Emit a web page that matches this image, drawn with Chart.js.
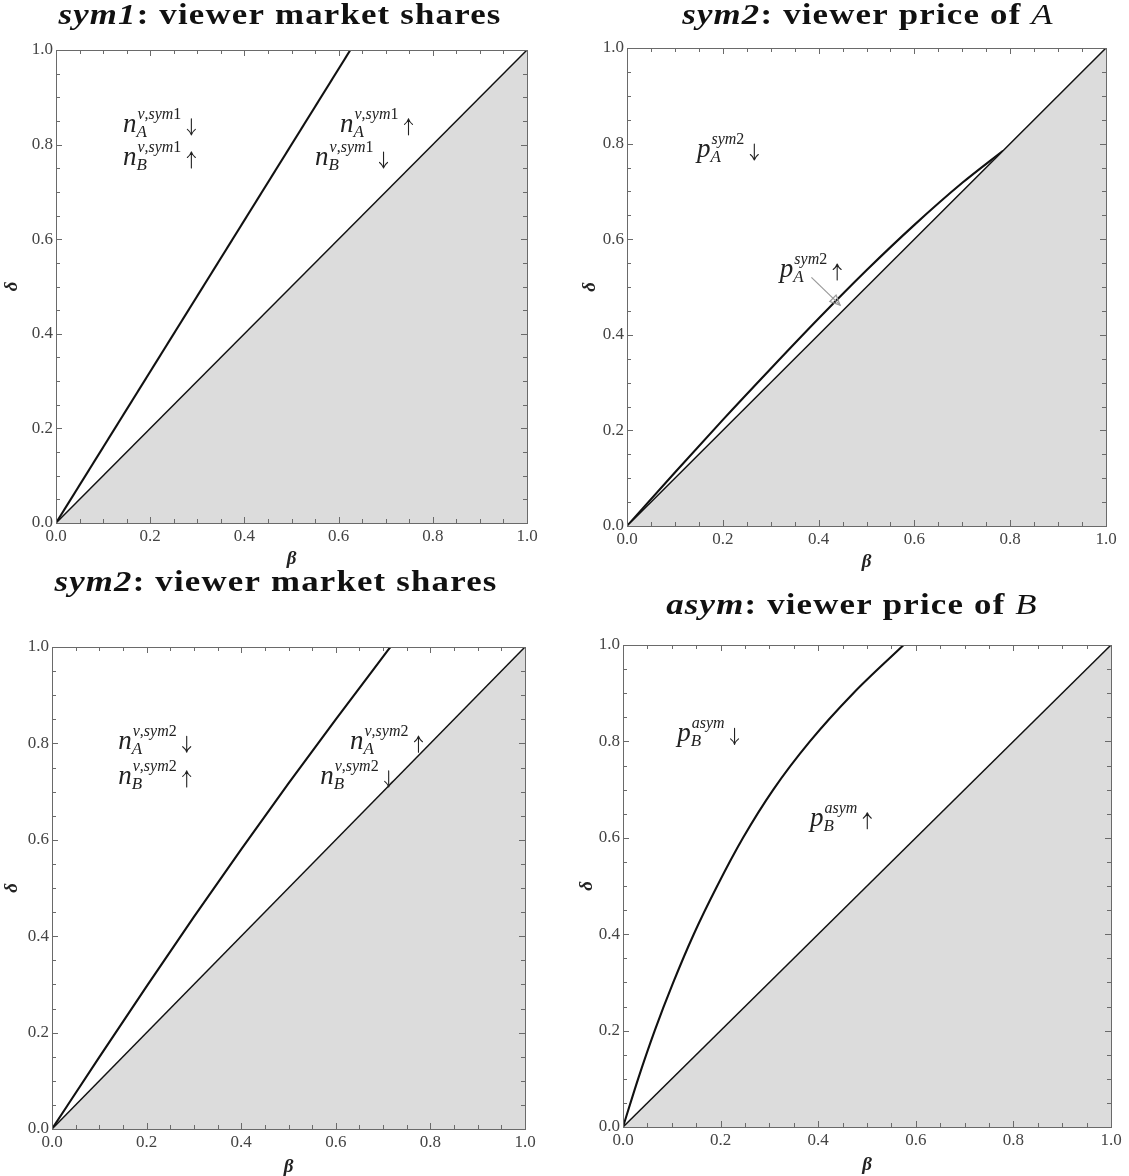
<!DOCTYPE html>
<html><head><meta charset="utf-8">
<script src="https://cdn.jsdelivr.net/npm/chart.js@4"></script>
<style>
html,body{margin:0;padding:0;background:#fff}
body{width:1129px;height:1176px;position:relative;overflow:hidden}
canvas{position:absolute}
</style></head><body>
<canvas id="c1"></canvas><canvas id="c2"></canvas><canvas id="c3"></canvas><canvas id="c4"></canvas>
<script>
// ---------- data ----------
const xTicks = [0, 0.2, 0.4, 0.6, 0.8, 1.0];
const yTicks = [0, 0.2, 0.4, 0.6, 0.8, 1.0];
const diagBeta = [0, 1];
const diagDelta = [0, 1];
// sym1: viewer market shares (boundary line)
const sym1ShareBeta = [0, 0.625];
const sym1ShareDelta = [0, 1.0];
// sym2: viewer price of A (boundary curve)
const sym2PriceBeta = [0, 0.1, 0.2, 0.3, 0.4, 0.5, 0.6, 0.7, 0.785];
const sym2PriceDelta = [0, 0.112, 0.222, 0.329, 0.434, 0.535, 0.63, 0.718, 0.785];
// sym2: viewer market shares (boundary curve)
const sym2ShareBeta = [0, 0.1, 0.2, 0.3, 0.4, 0.5, 0.6, 0.7, 0.7155];
const sym2ShareDelta = [0, 0.149, 0.296, 0.44, 0.58, 0.717, 0.85, 0.98, 1.0];
// asym: viewer price of B (boundary curve)
const asymPriceBeta = [0, 0.031, 0.065, 0.103, 0.145, 0.193, 0.246, 0.308, 0.383, 0.472, 0.575];
const asymPriceDelta = [0, 0.1, 0.2, 0.3, 0.4, 0.5, 0.6, 0.7, 0.8, 0.9, 1.0];

// ---------- helpers ----------
const SERIF = "'Liberation Serif', 'DejaVu Serif', serif";
function pts(xs, ys){ return xs.map((x,i)=>({x:x, y:ys[i]})); }
const Y_AXIS_W = 45, X_AXIS_H = 28;

function drawMathSeg(ctx, text, x, y, size){
  for (const ch of text){
    const roman = /[0-9,]/.test(ch);
    ctx.font = (roman ? '' : 'italic ') + size + 'px ' + SERIF;
    ctx.fillText(ch, x, y);
    x += ctx.measureText(ch).width;
  }
  return x;
}
function mathWidth(ctx, text, size){
  let w = 0;
  for (const ch of text){
    const roman = /[0-9,]/.test(ch);
    ctx.font = (roman ? '' : 'italic ') + size + 'px ' + SERIF;
    w += ctx.measureText(ch).width;
  }
  return w;
}
function drawArrowGlyph(ctx, x, py, up){
  const top = py - 13, bot = py + 3;
  ctx.save();
  ctx.strokeStyle = '#222'; ctx.lineWidth = 1.1; ctx.lineCap = 'round';
  ctx.beginPath();
  ctx.moveTo(x, top); ctx.lineTo(x, bot);
  const tip = up ? top : bot, d = up ? 1 : -1;
  ctx.moveTo(x, tip); ctx.quadraticCurveTo(x - 1.2, tip + d * 3.5, x - 4, tip + d * 5.5);
  ctx.moveTo(x, tip); ctx.quadraticCurveTo(x + 1.2, tip + d * 3.5, x + 4, tip + d * 5.5);
  ctx.stroke();
  ctx.restore();
}
function drawMathLabel(ctx, px, py, lab){
  ctx.fillStyle = '#222';
  ctx.textBaseline = 'alphabetic'; ctx.textAlign = 'left';
  ctx.font = 'italic 27px ' + SERIF;
  ctx.fillText(lab.base, px, py);
  const bw = ctx.measureText(lab.base).width;
  const sx = px + bw + 1;
  drawMathSeg(ctx, lab.sup, sx, py - 13, 16);
  drawMathSeg(ctx, lab.sub, sx - 1, py + 5, 17);
  const w = Math.max(mathWidth(ctx, lab.sup, 16), mathWidth(ctx, lab.sub, 17));
  drawArrowGlyph(ctx, sx + w + 10, py, lab.arrow === '↑');
}
function drawTitle(ctx, cx, by, parts){
  ctx.save();
  ctx.fillStyle = '#111'; ctx.textBaseline = 'alphabetic'; ctx.textAlign = 'left';
  const sx = 1.2;
  ctx.letterSpacing = '1px';
  let w = 0;
  parts.forEach(p => { ctx.font = p.font; p.w = ctx.measureText(p.t).width; w += p.w; });
  ctx.translate(cx - w * sx / 2, by); ctx.scale(sx, 1);
  let x = 0;
  parts.forEach(p => { ctx.font = p.font; ctx.fillText(p.t, x, 0); x += p.w; });
  ctx.restore();
}

const framePlugin = {
  id: 'frame',
  afterDatasetsDraw(chart){
    const ctx = chart.ctx, a = chart.chartArea;
    const xs = chart.scales.x, ys = chart.scales.y;
    ctx.save();
    ctx.strokeStyle = '#6a6a6a'; ctx.lineWidth = 1;
    ctx.strokeRect(Math.round(a.left) + 0.5, Math.round(a.top) + 0.5,
                   Math.round(a.right - a.left), Math.round(a.bottom - a.top));
    ctx.beginPath();
    for (let k = 1; k < 20; k++){
      const v = k / 20, major = (k % 4 === 0), L = major ? 6 : 4;
      const px = Math.round(xs.getPixelForValue(v)) + 0.5;
      const py = Math.round(ys.getPixelForValue(v)) + 0.5;
      ctx.moveTo(px, a.bottom); ctx.lineTo(px, a.bottom - L);
      ctx.moveTo(px, a.top); ctx.lineTo(px, a.top + L);
      ctx.moveTo(a.left, py); ctx.lineTo(a.left + L, py);
      ctx.moveTo(a.right, py); ctx.lineTo(a.right - L, py);
    }
    ctx.stroke();
    ctx.restore();
  }
};

const textPlugin = {
  id: 'texts',
  afterDraw(chart){
    const cfg = chart.options.plugins.texts;
    const ctx = chart.ctx, a = chart.chartArea;
    const xs = chart.scales.x, ys = chart.scales.y;
    ctx.save();
    drawTitle(ctx, cfg.titleX - cfg.box.left, cfg.titleY - cfg.box.top, cfg.title);
    ctx.fillStyle = '#222';
    ctx.font = 'bold italic 19px ' + SERIF;
    ctx.textAlign = 'center'; ctx.textBaseline = 'middle';
    ctx.fillText('β', (a.left + a.right) / 2, a.bottom + cfg.betaOff);
    ctx.save();
    ctx.translate(a.left - cfg.deltaOff, (a.top + a.bottom) / 2);
    ctx.rotate(-Math.PI / 2);
    ctx.fillText('δ', 0, 0);
    ctx.restore();
    cfg.labels.forEach(l => drawMathLabel(ctx, xs.getPixelForValue(l.x), ys.getPixelForValue(l.y), l));
    (cfg.pointers || []).forEach(p => {
      const x0 = xs.getPixelForValue(p.x0), y0 = ys.getPixelForValue(p.y0);
      const x1 = xs.getPixelForValue(p.x1), y1 = ys.getPixelForValue(p.y1);
      ctx.strokeStyle = '#9a9a9a'; ctx.lineWidth = 1.2;
      ctx.beginPath(); ctx.moveTo(x0, y0); ctx.lineTo(x1, y1); ctx.stroke();
      const ang = Math.atan2(y1 - y0, x1 - x0), L = 10, H = 4.5;
      const bx = x1 - L * Math.cos(ang), by = y1 - L * Math.sin(ang);
      ctx.beginPath();
      ctx.moveTo(x1, y1);
      ctx.lineTo(bx + H * Math.sin(ang), by - H * Math.cos(ang));
      ctx.lineTo(bx - H * Math.sin(ang), by + H * Math.cos(ang));
      ctx.closePath(); ctx.stroke();
    });
    ctx.restore();
  }
};

function makePanel(id, box, plot, datasets, texts){
  const c = document.getElementById(id);
  c.width = box.width; c.height = box.height;
  c.style.left = box.left + 'px'; c.style.top = box.top + 'px';
  c.style.width = box.width + 'px'; c.style.height = box.height + 'px';
  const padding = {
    left: plot.left - box.left - Y_AXIS_W,
    top: plot.top - box.top,
    right: box.left + box.width - plot.right,
    bottom: box.top + box.height - plot.bottom - X_AXIS_H
  };
  texts.box = box;
  const tickFont = {family: SERIF, size: 17};
  new Chart(c, {
    type: 'line',
    data: {datasets: datasets},
    options: {
      responsive: false, animation: false, devicePixelRatio: 1,
      layout: {padding: padding},
      elements: {point: {radius: 0, hoverRadius: 0}},
      plugins: {legend: {display: false}, tooltip: {enabled: false}, title: {display: false}, texts: texts},
      scales: {
        x: {
          type: 'linear', min: 0, max: 1,
          afterBuildTicks: s => { s.ticks = xTicks.map(v => ({value: v})); },
          afterFit: s => { s.height = X_AXIS_H; },
          grid: {display: false, drawTicks: false}, border: {display: false},
          ticks: {font: tickFont, color: '#444', padding: 3, maxRotation: 0, autoSkip: false,
                  callback: v => Number(v).toFixed(1)}
        },
        y: {
          type: 'linear', min: 0, max: 1,
          afterBuildTicks: s => { s.ticks = yTicks.map(v => ({value: v})); },
          afterFit: s => { s.width = Y_AXIS_W; },
          grid: {display: false, drawTicks: false}, border: {display: false},
          ticks: {font: tickFont, color: '#444', padding: 3, autoSkip: false,
                  callback: v => Number(v).toFixed(1)}
        }
      }
    },
    plugins: [framePlugin, textPlugin]
  });
}

function diagonalSet(){
  return {data: pts(diagBeta, diagDelta), borderColor: '#111', borderWidth: 1.5,
          fill: 'origin', backgroundColor: '#dcdcdc', tension: 0};
}
function curveSet(xs, ys){
  return {data: pts(xs, ys), borderColor: '#111', borderWidth: 2.1, fill: false,
          cubicInterpolationMode: 'monotone'};
}
const boldF = 'bold 29px ' + SERIF, boldItF = 'bold italic 29px ' + SERIF, itF = 'italic 29px ' + SERIF;

// Panel 1
makePanel('c1', {left: 0, top: 0, width: 565, height: 580},
  {left: 56, top: 50, right: 527, bottom: 523},
  [diagonalSet(), curveSet(sym1ShareBeta, sym1ShareDelta)],
  {titleX: 280, titleY: 24, betaOff: 36, deltaOff: 44,
   title: [{t: 'sym1', font: boldItF}, {t: ': viewer market shares', font: boldF}],
   labels: [
     {x: 0.142, y: 0.827, base: 'n', sub: 'A', sup: 'v,sym1', arrow: '↓'},
     {x: 0.142, y: 0.757, base: 'n', sub: 'B', sup: 'v,sym1', arrow: '↑'},
     {x: 0.603, y: 0.827, base: 'n', sub: 'A', sup: 'v,sym1', arrow: '↑'},
     {x: 0.550, y: 0.757, base: 'n', sub: 'B', sup: 'v,sym1', arrow: '↓'}
   ]});

// Panel 2
makePanel('c2', {left: 565, top: 0, width: 564, height: 580},
  {left: 627, top: 48, right: 1106, bottom: 526},
  [diagonalSet(), curveSet(sym2PriceBeta, sym2PriceDelta)],
  {titleX: 868, titleY: 24, betaOff: 36, deltaOff: 37,
   title: [{t: 'sym2', font: boldItF}, {t: ': viewer price of ', font: boldF}, {t: 'A', font: itF}],
   labels: [
     {x: 0.146, y: 0.772, base: 'p', sub: 'A', sup: 'sym2', arrow: '↓'},
     {x: 0.319, y: 0.521, base: 'p', sub: 'A', sup: 'sym2', arrow: '↑'}
   ],
   pointers: [{x0: 0.385, y0: 0.52, x1: 0.445, y1: 0.462}]});

// Panel 3
makePanel('c3', {left: 0, top: 555, width: 565, height: 621},
  {left: 52, top: 647, right: 525, bottom: 1129},
  [diagonalSet(), curveSet(sym2ShareBeta, sym2ShareDelta)],
  {titleX: 276, titleY: 591, betaOff: 38, deltaOff: 40,
   title: [{t: 'sym2', font: boldItF}, {t: ': viewer market shares', font: boldF}],
   labels: [
     {x: 0.140, y: 0.788, base: 'n', sub: 'A', sup: 'v,sym2', arrow: '↓'},
     {x: 0.140, y: 0.716, base: 'n', sub: 'B', sup: 'v,sym2', arrow: '↑'},
     {x: 0.630, y: 0.788, base: 'n', sub: 'A', sup: 'v,sym2', arrow: '↑'},
     {x: 0.567, y: 0.716, base: 'n', sub: 'B', sup: 'v,sym2', arrow: '↓'}
   ]});

// Panel 4
makePanel('c4', {left: 565, top: 555, width: 564, height: 621},
  {left: 623, top: 645, right: 1111, bottom: 1127},
  [diagonalSet(), curveSet(asymPriceBeta, asymPriceDelta)],
  {titleX: 852, titleY: 614, betaOff: 38, deltaOff: 36,
   title: [{t: 'asym', font: boldItF}, {t: ': viewer price of ', font: boldF}, {t: 'B', font: itF}],
   labels: [
     {x: 0.111, y: 0.800, base: 'p', sub: 'B', sup: 'asym', arrow: '↓'},
     {x: 0.383, y: 0.625, base: 'p', sub: 'B', sup: 'asym', arrow: '↑'}
   ]});
</script>
</body></html>
